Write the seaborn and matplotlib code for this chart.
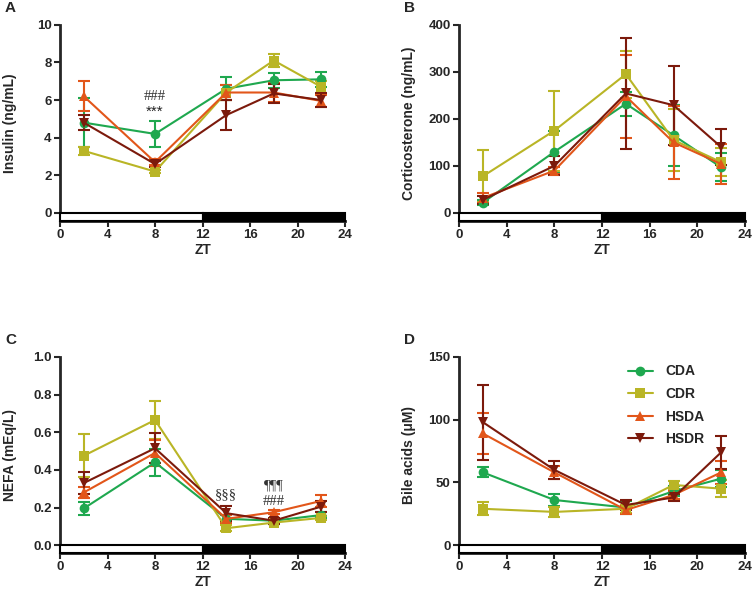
import matplotlib
matplotlib.use('Agg')
import matplotlib.pyplot as plt
import matplotlib.patches as mpatches
import seaborn as sns
import pandas as pd

zt = [2, 8, 14, 18, 22]
groups = ['CDA', 'CDR', 'HSDA', 'HSDR']
colors = {'CDA': '#1fa84f', 'CDR': '#b9b526', 'HSDA': '#e2561a', 'HSDR': '#7c1a0c'}
markers = {'CDA': 'o', 'CDR': 's', 'HSDA': '^', 'HSDR': 'v'}

# insulin (ng/mL)
insulin = {'CDA': [4.8, 4.2, 6.6, 7.05, 7.1],
           'CDR': [3.3, 2.2, 6.4, 8.1, 6.7],
           'HSDA': [6.2, 2.7, 6.4, 6.4, 5.95],
           'HSDR': [4.8, 2.6, 5.2, 6.35, 6.0]}
insulin_err = {'CDA': [1.3, 0.7, 0.6, 0.4, 0.4],
               'CDR': [0.2, 0.1, 0.4, 0.35, 0.3],
               'HSDA': [0.8, 0.15, 0.4, 0.5, 0.3],
               'HSDR': [0.4, 0.15, 0.8, 0.5, 0.35]}

# corticosterone (ng/mL)
cort = {'CDA': [22, 130, 232, 165, 97],
        'CDR': [78, 175, 295, 155, 108],
        'HSDA': [32, 90, 248, 150, 104],
        'HSDR': [28, 100, 254, 229, 140]}
cort_err = {'CDA': [5, 45, 25, 65, 30],
            'CDR': [55, 85, 50, 65, 30],
            'HSDA': [10, 8, 88, 78, 42],
            'HSDR': [8, 20, 118, 84, 38]}

# NEFA (mEq/L)
nefa = {'CDA': [0.195, 0.44, 0.14, 0.13, 0.16],
        'CDR': [0.475, 0.665, 0.09, 0.12, 0.145],
        'HSDA': [0.28, 0.49, 0.14, 0.175, 0.235],
        'HSDR': [0.33, 0.515, 0.17, 0.13, 0.205]}
nefa_err = {'CDA': [0.035, 0.07, 0.02, 0.015, 0.015],
            'CDR': [0.115, 0.1, 0.015, 0.01, 0.01],
            'HSDA': [0.03, 0.07, 0.02, 0.01, 0.03],
            'HSDR': [0.06, 0.08, 0.04, 0.015, 0.03]}

# bile acids (uM)
bile = {'CDA': [58, 36, 30, 43, 53],
        'CDR': [29, 26.5, 29, 48, 45],
        'HSDA': [89, 58, 28, 40, 58],
        'HSDR': [98, 60, 32, 38, 74]}
bile_err = {'CDA': [4, 5, 5, 4, 7],
            'CDR': [5, 4, 3, 3, 7],
            'HSDA': [16, 5, 3, 3, 9],
            'HSDR': [30, 7, 4, 3, 13]}

sns.set_style('white')
plt.rcParams['font.family'] = ['Liberation Sans', 'DejaVu Sans']
plt.rcParams['font.weight'] = 'bold'

fig = plt.figure(figsize=(7.53, 5.89), dpi=100)


def panel(rect, vals, errs, ymax, ystep, ylabel, letter, legend=False):
    ax = fig.add_axes(rect)
    bar_h = ymax * 0.042
    rows = []
    for g in groups:
        for x, v in zip(zt, vals[g]):
            rows.append({'ZT': x, 'value': v, 'group': g})
    df = pd.DataFrame(rows)
    for g in groups:
        ax.errorbar(zt, vals[g], yerr=errs[g], fmt='none', ecolor=colors[g],
                    elinewidth=1.5, capsize=4, capthick=1.5, zorder=2)
    sns.lineplot(data=df, x='ZT', y='value', hue='group', style='group',
                 hue_order=groups, style_order=groups, palette=colors,
                 markers=markers, dashes=False, markersize=7, linewidth=1.5,
                 markeredgewidth=0, ax=ax, legend=legend, zorder=3)
    # light/dark bar
    ax.add_patch(mpatches.Rectangle((0, -bar_h), 12, bar_h, facecolor='white',
                                    edgecolor='black', linewidth=1.5, zorder=4,
                                    clip_on=False))
    ax.add_patch(mpatches.Rectangle((12, -bar_h), 12, bar_h, facecolor='black',
                                    edgecolor='black', linewidth=1.5, zorder=4,
                                    clip_on=False))
    ax.set_xlim(0, 24)
    ax.set_ylim(-bar_h, ymax)
    ax.set_xticks(range(0, 25, 4))
    ax.set_yticks([i * ystep for i in range(int(round(ymax / ystep)) + 1)])
    if ystep < 1:
        ax.set_yticklabels(['%.1f' % t for t in ax.get_yticks()])
    ax.spines['top'].set_visible(False)
    ax.spines['right'].set_visible(False)
    ax.spines['left'].set_linewidth(2)
    ax.spines['bottom'].set_linewidth(2)
    ax.spines['left'].set_bounds(0, ymax)
    ax.tick_params(axis='both', direction='out', length=4, width=1.5,
                   labelsize=9.5, pad=2, bottom=True, left=True)
    for t in ax.get_xticklabels() + ax.get_yticklabels():
        t.set_fontweight('bold')
    ax.set_xlabel('ZT', fontsize=10, fontweight='bold', labelpad=1)
    ax.set_ylabel(ylabel, fontsize=10, fontweight='bold')
    ax.yaxis.set_label_coords(-0.15, 0.5)
    ax.grid(False)
    fig.text(rect[0] - 0.073, rect[1] + rect[3] + 0.017, letter, fontsize=11,
             fontweight='bold', va='bottom')
    if legend:
        leg = ax.legend(loc='upper left', frameon=False, fontsize=10,
                        handlelength=1.8, handletextpad=0.9, labelspacing=0.62,
                        bbox_to_anchor=(0.57, 0.99), borderaxespad=0)
        for t in leg.get_texts():
            t.set_fontweight('bold')
    return ax


axA = panel([0.0797, 0.625, 0.3785, 0.333], insulin, insulin_err, 10, 2,
            'Insulin (ng/mL)', 'A')
axB = panel([0.6096, 0.625, 0.3798, 0.333], cort, cort_err, 400, 100,
            'Corticosterone (ng/mL)', 'B')
axC = panel([0.0797, 0.061, 0.3785, 0.333], nefa, nefa_err, 1.0, 0.2,
            'NEFA (mEq/L)', 'C')
axD = panel([0.6096, 0.061, 0.3798, 0.333], bile, bile_err, 150, 50,
            'Bile acids (\u03bcM)', 'D', legend=True)

ann = dict(ha='center', va='center', fontsize=10.5, color='#333333',
           fontweight='normal', family=['Liberation Serif', 'DejaVu Serif'])
axA.text(8, 6.2, '###', **ann)
axA.text(8, 5.4, '***', fontsize=11, fontweight='normal', ha='center',
         va='center', color='#222222')
axC.text(14, 0.27, '\u00a7\u00a7\u00a7', **ann)
axC.text(18, 0.315, '\u00b6\u00b6\u00b6', **ann)
axC.text(18, 0.23, '###', **ann)

fig.savefig('out.png', dpi=100)
